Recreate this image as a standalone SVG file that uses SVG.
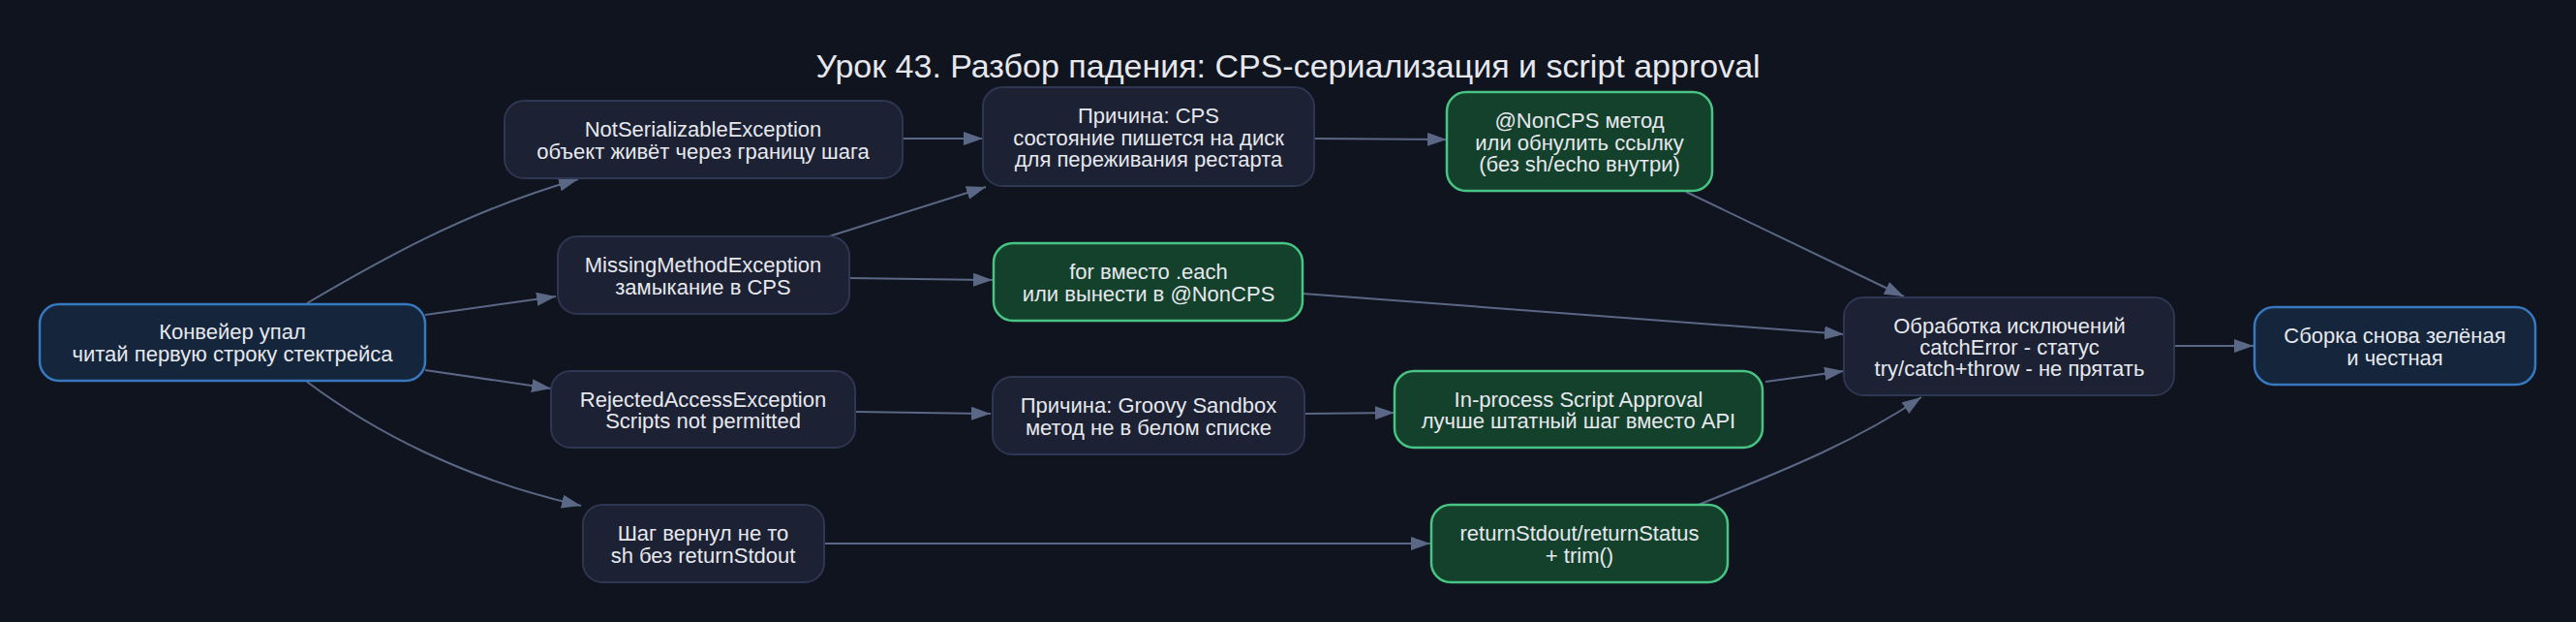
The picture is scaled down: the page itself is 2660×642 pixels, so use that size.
<svg xmlns="http://www.w3.org/2000/svg" width="2660" height="642" viewBox="0 0 2660 642">
<defs>
<style>
.bg{fill:#10141f}
.n rect{fill:#1c2133;stroke:#2e3752;stroke-width:2}
.n.blue rect{fill:#15263c;stroke:#3679c0;stroke-width:2.5}
.n.green rect{fill:#14412b;stroke:#48c484;stroke-width:2.5}
text{font-family:"Liberation Sans",Arial,sans-serif;fill:#e6e8ee;text-anchor:middle}
.n text{font-size:22px}
.title{font-size:34px}
.e path{fill:none;stroke:#5a6785;stroke-width:2}
</style>
<marker id="ah" markerUnits="userSpaceOnUse" markerWidth="20" markerHeight="14" refX="20" refY="7" orient="auto" viewBox="0 0 20 14">
<path d="M0,0 L20,7 L0,14 z" fill="#5a6785"/>
</marker>
</defs>
<rect class="bg" x="0" y="0" width="2660" height="642"/>
<text class="title" x="1330" y="80">Урок 43. Разбор падения: CPS-сериализация и script approval</text>

<g id="edges" class="e">
<path marker-end="url(#ah)" d="M317,313 C385,273 480,218 597,185"/>
<path marker-end="url(#ah)" d="M439,325 L574,306"/>
<path marker-end="url(#ah)" d="M439,382 L569,401"/>
<path marker-end="url(#ah)" d="M317,394 C385,445 480,495 600,522"/>
<path marker-end="url(#ah)" d="M932,143 L1015,143"/>
<path marker-end="url(#ah)" d="M856,244 L1018,193"/>
<path marker-end="url(#ah)" d="M877,287 L1025,289"/>
<path marker-end="url(#ah)" d="M883,425 L1023,427"/>
<path marker-end="url(#ah)" d="M851,561 L1477,561"/>
<path marker-end="url(#ah)" d="M1357,143 L1494,144"/>
<path marker-end="url(#ah)" d="M1347,427 L1440,426"/>
<path marker-end="url(#ah)" d="M1741,198 L1966,306"/>
<path marker-end="url(#ah)" d="M1345,303 L1904,345"/>
<path marker-end="url(#ah)" d="M1823,394 L1904,383"/>
<path marker-end="url(#ah)" d="M1754,521 C1830,490 1910,460 1984,410"/>
<path marker-end="url(#ah)" d="M2245,357 L2327,357"/>
</g>

<g id="n_fail" class="n blue">
<rect x="41" y="314" width="398" height="79" rx="20"/>
<text x="240" y="353"><tspan x="240" dy="-2.6">Конвейер упал</tspan><tspan x="240" dy="22.2">читай первую строку стектрейса</tspan></text>
</g>
<g id="n_notser" class="n">
<rect x="521" y="104" width="411" height="80" rx="20"/>
<text x="726" y="144"><tspan x="726" dy="-2.6">NotSerializableException</tspan><tspan x="726" dy="22.2">объект живёт через границу шага</tspan></text>
</g>
<g id="n_missing" class="n">
<rect x="576" y="244" width="301" height="80" rx="20"/>
<text x="726" y="284"><tspan x="726" dy="-2.6">MissingMethodException</tspan><tspan x="726" dy="22.2">замыкание в CPS</tspan></text>
</g>
<g id="n_rejected" class="n">
<rect x="569" y="383" width="314" height="79" rx="20"/>
<text x="726" y="422.5"><tspan x="726" dy="-2.6">RejectedAccessException</tspan><tspan x="726" dy="22.2">Scripts not permitted</tspan></text>
</g>
<g id="n_step" class="n">
<rect x="602" y="521" width="249" height="80" rx="20"/>
<text x="726" y="561"><tspan x="726" dy="-2.6">Шаг вернул не то</tspan><tspan x="726" dy="22.2">sh без returnStdout</tspan></text>
</g>
<g id="n_cps" class="n">
<rect x="1015" y="90" width="342" height="102" rx="20"/>
<text x="1186" y="141"><tspan x="1186" dy="-13.7">Причина: CPS</tspan><tspan x="1186" dy="22.2">состояние пишется на диск</tspan><tspan x="1186" dy="22.2">для переживания рестарта</tspan></text>
</g>
<g id="n_for" class="n green">
<rect x="1026" y="251" width="319" height="80" rx="20"/>
<text x="1186" y="291"><tspan x="1186" dy="-2.6">for вместо .each</tspan><tspan x="1186" dy="22.2">или вынести в @NonCPS</tspan></text>
</g>
<g id="n_sandbox" class="n">
<rect x="1025" y="389" width="322" height="80" rx="20"/>
<text x="1186" y="429"><tspan x="1186" dy="-2.6">Причина: Groovy Sandbox</tspan><tspan x="1186" dy="22.2">метод не в белом списке</tspan></text>
</g>
<g id="n_noncps" class="n green">
<rect x="1494" y="95" width="274" height="102" rx="20"/>
<text x="1631" y="146"><tspan x="1631" dy="-13.7">@NonCPS метод</tspan><tspan x="1631" dy="22.2">или обнулить ссылку</tspan><tspan x="1631" dy="22.2">(без sh/echo внутри)</tspan></text>
</g>
<g id="n_approval" class="n green">
<rect x="1440" y="383" width="380" height="79" rx="20"/>
<text x="1630" y="422.5"><tspan x="1630" dy="-2.6">In-process Script Approval</tspan><tspan x="1630" dy="22.2">лучше штатный шаг вместо API</tspan></text>
</g>
<g id="n_return" class="n green">
<rect x="1478" y="521" width="306" height="80" rx="20"/>
<text x="1631" y="561"><tspan x="1631" dy="-2.6">returnStdout/returnStatus</tspan><tspan x="1631" dy="22.2">+ trim()</tspan></text>
</g>
<g id="n_handle" class="n">
<rect x="1904" y="307" width="341" height="101" rx="20"/>
<text x="2075" y="357.5"><tspan x="2075" dy="-13.7">Обработка исключений</tspan><tspan x="2075" dy="22.2">catchError - статус</tspan><tspan x="2075" dy="22.2">try/catch+throw - не прятать</tspan></text>
</g>
<g id="n_green" class="n blue">
<rect x="2328" y="317" width="290" height="80" rx="20"/>
<text x="2473" y="357"><tspan x="2473" dy="-2.6">Сборка снова зелёная</tspan><tspan x="2473" dy="22.2">и честная</tspan></text>
</g>
</svg>
